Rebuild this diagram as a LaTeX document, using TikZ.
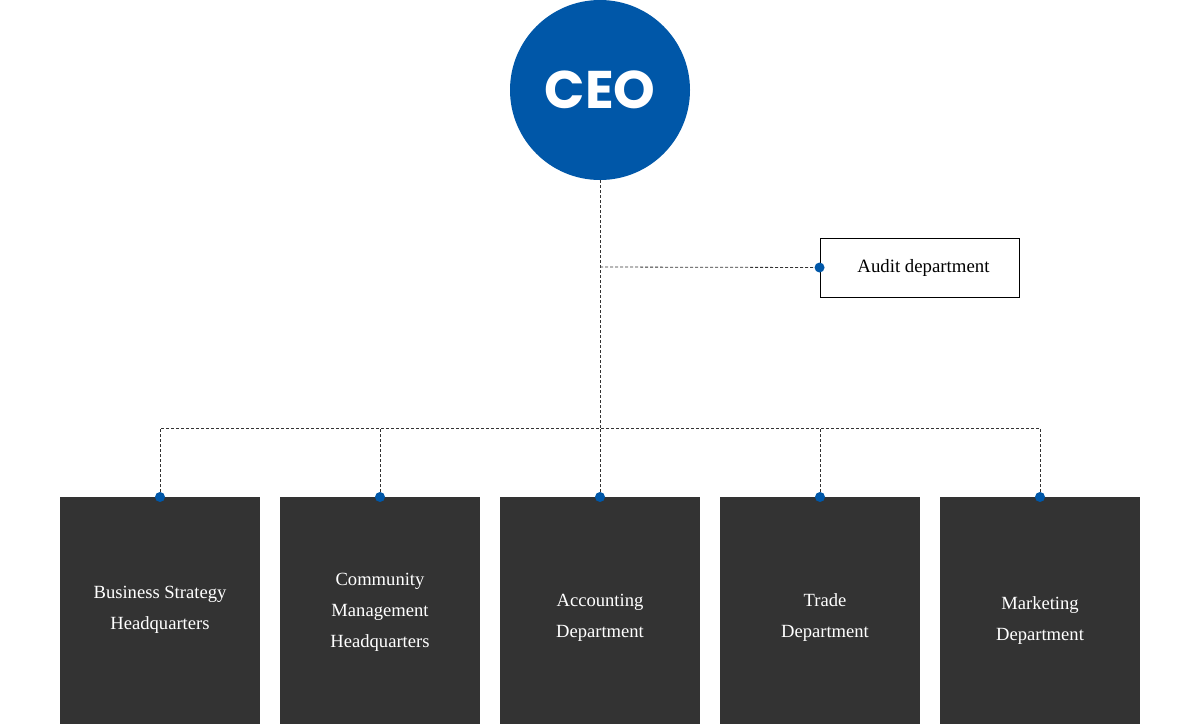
\documentclass[tikz,border=0pt]{standalone}
\usepackage{fontspec}
\setmainfont{Liberation Serif}
\newfontfamily\ceofont{Poppins}
\definecolor{ceoblue}{HTML}{0057A8}
\definecolor{boxgray}{HTML}{333333}
\definecolor{linegray}{HTML}{333333}
\tikzset{
  dl/.style={draw=linegray, line width=0.8pt, dash pattern=on 3pt off 2pt},
  deptbox/.style={fill=boxgray, minimum width=200pt, minimum height=227pt, inner sep=0pt, anchor=north},
  depttext/.style={text=white, align=center, inner sep=0pt, font=\fontsize{18.6}{31}\selectfont},
  auditbox/.style={draw=black, line width=0.9pt, fill=white, minimum width=199pt, minimum height=59pt, inner sep=0pt, font=\fontsize{18.8}{20}\selectfont},
  dotm/.style={fill=ceoblue}
}
\begin{document}
\begin{tikzpicture}[x=1pt,y=-1pt]
\useasboundingbox (0,0) rectangle (1200,724);
\node[circle, fill=ceoblue, minimum size=180pt, inner sep=0pt, text=white, font=\ceofont\bfseries\fontsize{53}{53}\selectfont] (ceo) at (600,90) {CEO};
\node[auditbox] (audit) at (919.5,267.5) {\hspace*{8pt}Audit department};
\node[deptbox, label={[depttext, yshift=1pt]center:Business Strategy\\Headquarters}] (d1) at (160,497) {};
\node[deptbox, label={[depttext, yshift=-2pt]center:Community\\Management\\Headquarters}] (d2) at (380,497) {};
\node[deptbox, label={[depttext, yshift=-7pt]center:Accounting\\Department}] (d3) at (600,497) {};
\node[deptbox, label={[depttext, yshift=-7pt, xshift=5pt]center:Trade\\Department}] (d4) at (820,497) {};
\node[deptbox, label={[depttext, yshift=-10pt]center:Marketing\\Department}] (d5) at (1040,497) {};
\coordinate (j1) at (600,267);
\coordinate (bus) at (600,428);
\draw[dl] (ceo.south) -- (bus);
\draw[dl] (j1) -- (audit.west);
\draw[dl] (d1.north) -- (d1.north |- bus) -- (d5.north |- bus) -- (d5.north);
\draw[dl] (d2.north) -- (d2.north |- bus);
\draw[dl] (d3.north) -- (bus);
\draw[dl] (d4.north) -- (d4.north |- bus);
\foreach \n in {d1,d2,d3,d4,d5} \fill[dotm] (\n.north) circle (5pt);
\fill[dotm] (audit.west) circle (5pt);
\end{tikzpicture}
\end{document}
